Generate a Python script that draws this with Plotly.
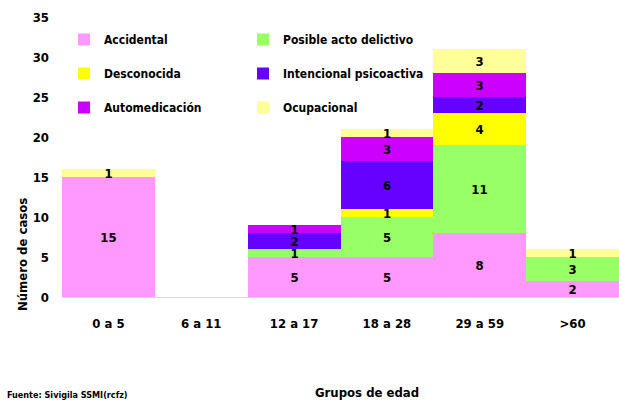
import plotly.graph_objects as go

grupos = ["0 a 5", "6 a 11", "12 a 17", "18 a 28", "29 a 59", ">60"]

accidental = [15, 0, 5, 5, 8, 2]
posible_acto = [0, 0, 1, 5, 11, 3]
desconocida = [0, 0, 0, 1, 4, 0]
intencional = [0, 0, 2, 6, 2, 0]
automedicacion = [0, 0, 1, 3, 3, 0]
ocupacional = [1, 0, 0, 1, 3, 1]

series = [
    ("Accidental", accidental, "#FF99FF", "legend"),
    ("Posible acto delictivo", posible_acto, "#99FF66", "legend2"),
    ("Desconocida", desconocida, "#FFFF00", "legend"),
    ("Intencional psicoactiva", intencional, "#6600FF", "legend2"),
    ("Automedicación", automedicacion, "#CC00FF", "legend"),
    ("Ocupacional", ocupacional, "#FFFF99", "legend2"),
]

FONT = "DejaVu Sans Condensed, Liberation Sans Narrow, Liberation Sans, Arial"


def f(size):
    return dict(family=FONT, size=size, color="black", weight="bold")


fig = go.Figure()
for nombre, vals, color, leg in series:
    fig.add_trace(go.Bar(
        name=nombre,
        x=grupos,
        y=[v if v else None for v in vals],
        text=[str(v) if v else "" for v in vals],
        textposition="inside",
        textangle=0,
        insidetextanchor="middle",
        constraintext="none",
        textfont=f(13),
        marker=dict(color=color, line=dict(width=0)),
        legend=leg,
        legendgroup=nombre,
        cliponaxis=False,
    ))

legend_common = dict(
    bgcolor="rgba(0,0,0,0)",
    font=f(12),
    traceorder="grouped",
    tracegroupgap=15,
    itemwidth=30,
    xanchor="left",
    yanchor="top",
)

# plot area in pixels: x 62..619, y 17..297
ph, pw = 280.0, 557.0

fig.update_layout(
    barmode="stack",
    bargap=0,
    width=619,
    height=400,
    margin=dict(l=62, r=0, t=17, b=103),
    plot_bgcolor="white",
    paper_bgcolor="white",
    font=f(13),
    legend=dict(x=(64 - 62) / pw, y=(297 - 25) / ph, **legend_common),
    legend2=dict(x=(243 - 62) / pw, y=(297 - 25) / ph, **legend_common),
    xaxis=dict(
        showline=True,
        linecolor="#D9D9D9",
        linewidth=1,
        ticks="",
        tickfont=f(13),
        ticklabelstandoff=14,
    ),
    yaxis=dict(
        range=[0, 35],
        dtick=5,
        showgrid=False,
        zeroline=False,
        showline=False,
        tickfont=f(13),
        ticklabelstandoff=12,
    ),
    annotations=[
        dict(text="Número de casos", textangle=-90,
             x=(22 - 62) / pw, y=(297 - 255) / ph, xanchor="center", yanchor="middle",
             xref="paper", yref="paper", showarrow=False, font=f(13)),
        dict(text="Grupos de edad",
             x=(367 - 62) / pw, y=(297 - 392) / ph, xanchor="center", yanchor="middle",
             xref="paper", yref="paper", showarrow=False, font=f(13)),
        dict(text="Fuente: Sivigila SSMI(rcfz)",
             x=(5 - 62) / pw, y=(297 - 395) / ph, xanchor="left", yanchor="middle",
             xref="paper", yref="paper", showarrow=False, font=f(9)),
    ],
)

fig.write_html("out.html", config={"displayModeBar": False},
               post_script="document.body.style.margin='0';")
